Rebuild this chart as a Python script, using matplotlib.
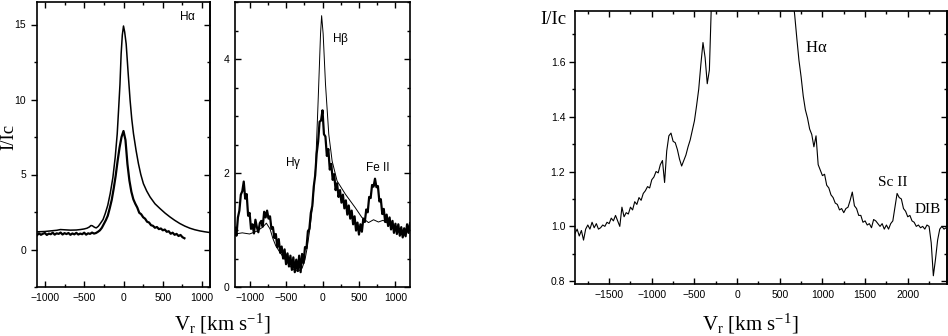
import numpy as np
import matplotlib
matplotlib.use("Agg")
import matplotlib.pyplot as plt
from matplotlib.ticker import MultipleLocator, FormatStrFormatter

plt.rcParams['font.family'] = ['Liberation Sans', 'DejaVu Sans']
plt.rcParams['mathtext.default'] = 'regular'

SERIF = ['Liberation Serif', 'DejaVu Serif']

# ---- panel 1: H-alpha, two epochs ----
ha_smooth_v = [-1100, -1000, -928, -850, -802, -740, -675, -600, -549, -500, -464,
               -435, -414, -395, -380, -360, -346, -320, -295, -260, -232, -200,
               -169, -135, -105, -80, -63, -45, -30, -15, 0, 15, 34, 60, 84, 105,
               127, 160, 190, 220, 253, 295, 338, 400, 464, 530, 591, 650, 717,
               780, 844, 905, 970, 1035, 1100]
ha_smooth_flux = [1.18, 1.20, 1.24, 1.28, 1.33, 1.31, 1.29, 1.30, 1.33, 1.37, 1.42,
                  1.50, 1.60, 1.58, 1.52, 1.46, 1.44, 1.55, 1.73, 2.00, 2.40, 2.95,
                  3.73, 4.80, 6.17, 7.70, 9.27, 11.0, 13.05, 14.3, 14.9, 14.5, 13.7,
                  11.7, 9.94, 8.70, 7.72, 6.60, 5.72, 5.00, 4.39, 3.90, 3.50, 3.05,
                  2.73, 2.42, 2.17, 1.95, 1.73, 1.56, 1.42, 1.32, 1.24, 1.18, 1.13]

ha_noisy_v = np.arange(-1100, 800, 25)
ha_noisy_flux = [0.95, 1.08, 0.98, 1.05, 1.10, 0.97, 1.06, 1.02,
                 1.12, 0.99, 1.08, 1.04, 1.13, 1.00, 1.09, 1.03,
                 1.10, 0.98, 1.07, 1.01, 1.11, 1.00, 1.06, 1.02,
                 1.12, 0.99, 1.08, 1.04, 1.13, 1.06, 1.10, 1.18,
                 1.28, 1.45, 1.70, 1.95, 2.25, 2.75, 3.30, 4.05,
                 4.90, 5.90, 6.80, 7.50, 7.90, 7.30, 5.70, 4.60,
                 3.85, 3.35, 3.05, 2.80, 2.45, 2.35, 2.15, 2.05,
                 1.85, 1.80, 1.62, 1.58, 1.45, 1.50, 1.36, 1.40,
                 1.28, 1.33, 1.18, 1.22, 1.05, 1.12, 0.98, 1.04,
                 0.90, 0.97, 0.82, 0.75]

# ---- panel 2: H-beta (thin) and H-gamma region (noisy) ----
hb_v = [-1200, -1100, -1000, -900, -820, -770, -720, -680, -640, -580, -500,
        -440, -380, -330, -280, -240, -210, -170, -140, -95, -60, -27, -12, 9,
        41, 86, 132, 200, 313, 450, 540, 631, 700, 767, 830, 904, 970, 1040,
        1109, 1150, 1200]
hb_flux = [0.93, 0.95, 0.93, 0.98, 1.05, 1.12, 1.02, 0.85, 0.72, 0.60, 0.46,
           0.36, 0.29, 0.28, 0.33, 0.48, 0.69, 1.05, 1.39, 2.09, 3.26, 4.44, 4.76,
           4.44, 3.56, 2.68, 2.21, 1.86, 1.63, 1.39, 1.22, 1.13, 1.18, 1.14, 1.17,
           1.11, 1.06, 0.98, 0.89, 0.95, 1.04]

hg_v = np.arange(-1200, 1201, 20)
hg_flux = [1.04, 0.90, 1.22, 1.34, 1.62, 1.68, 1.85, 1.55, 1.63, 1.25,
           1.30, 1.02, 1.10, 0.94, 1.18, 1.05, 0.96, 1.12, 1.16, 1.06,
           1.32, 1.22, 1.34, 1.20, 1.24, 1.02, 1.05, 0.86, 0.93, 0.70,
           0.84, 0.60, 0.71, 0.50, 0.66, 0.40, 0.59, 0.36, 0.55, 0.30,
           0.52, 0.26, 0.48, 0.28, 0.55, 0.26, 0.58, 0.42, 0.70, 0.68,
           0.98, 1.02, 1.30, 1.42, 1.76, 1.96, 2.34, 2.55, 2.90, 2.92,
           3.10, 2.68, 2.64, 2.30, 2.42, 2.06, 2.16, 1.88, 1.98, 1.70,
           1.82, 1.58, 1.70, 1.48, 1.62, 1.38, 1.52, 1.27, 1.43, 1.20,
           1.34, 1.10, 1.24, 0.99, 1.13, 0.92, 1.10, 0.97, 1.20, 1.14,
           1.36, 1.31, 1.58, 1.56, 1.79, 1.76, 1.90, 1.75, 1.77, 1.50,
           1.54, 1.28, 1.37, 1.14, 1.27, 1.07, 1.22, 1.01, 1.16, 0.95,
           1.11, 0.93, 1.10, 0.90, 1.05, 0.87, 1.03, 0.89, 1.10, 0.95,
           1.12]

# ---- panel 3: H-alpha wings, zoomed ----
wing_blue_v = np.arange(-1900, -299, 25)
wing_blue_flux = [0.975, 0.99, 0.965, 0.985, 0.95, 0.99, 1.005, 0.99,
                  1.015, 0.995, 1.01, 0.99, 0.995, 1.005, 1.0, 1.015,
                  1.01, 1.03, 1.02, 1.04, 1.02, 1.0, 1.07, 1.035,
                  1.05, 1.045, 1.07, 1.06, 1.09, 1.08, 1.105, 1.095,
                  1.12, 1.13, 1.145, 1.14, 1.17, 1.18, 1.2, 1.195,
                  1.225, 1.24, 1.16, 1.275, 1.33, 1.34, 1.31, 1.305,
                  1.28, 1.245, 1.22, 1.24, 1.26, 1.29, 1.315, 1.35,
                  1.385, 1.44, 1.5, 1.59, 1.67, 1.615, 1.52, 1.57,
                  1.82]
wing_peak_v = [0]
wing_peak_flux = [14.9]
wing_red_v = np.arange(650, 2451, 25)
wing_red_flux = [1.84, 1.77, 1.685, 1.605, 1.545, 1.475, 1.425, 1.395,
                 1.355, 1.335, 1.29, 1.33, 1.225, 1.205, 1.185, 1.19,
                 1.15, 1.14, 1.115, 1.105, 1.085, 1.08, 1.06, 1.065,
                 1.05, 1.065, 1.07, 1.095, 1.125, 1.075, 1.065, 1.04,
                 1.04, 1.015, 1.02, 1.005, 1.01, 0.995, 1.025, 1.02,
                 1.01, 1.0, 1.01, 0.99, 1.005, 0.99, 1.01, 1.02,
                 1.07, 1.12, 1.105, 1.1, 1.065, 1.055, 1.035, 1.04,
                 1.02, 1.015, 1.0, 1.005, 0.995, 1.0, 0.99, 1.005,
                 1.0, 0.94, 0.82, 0.88, 0.95, 0.99, 1.0, 0.99,
                 0.995]

W, H = 948, 336
fig = plt.figure(figsize=(W / 100, H / 100), dpi=100)
ax1 = fig.add_axes([37 / W, 49 / H, 173 / W, 285 / H])
ax2 = fig.add_axes([235 / W, 49 / H, 175 / W, 285 / H])
ax3 = fig.add_axes([575 / W, 52 / H, 372 / W, 273 / H])


def style(ax, ymajor, yminor, left_out, yfmt=None, ypad=4):
    for sp in ax.spines.values():
        sp.set_linewidth(1.2)
    ax.xaxis.set_major_locator(MultipleLocator(500))
    ax.xaxis.set_minor_locator(MultipleLocator(250))
    ax.yaxis.set_major_locator(MultipleLocator(ymajor))
    ax.yaxis.set_minor_locator(MultipleLocator(yminor))
    if yfmt:
        ax.yaxis.set_major_formatter(FormatStrFormatter(yfmt))
    ax.tick_params(axis='x', which='both', direction='in', top=True,
                   labelsize=7.5, width=1, pad=4)
    ax.tick_params(which='major', length=4)
    ax.tick_params(which='minor', length=2.5)
    if left_out:
        ax.tick_params(axis='y', which='both', direction='out', right=False,
                       labelsize=7.5, width=1, pad=ypad)
        # right-hand ticks point inward, so they get their own axis
        sec = ax.secondary_yaxis('right')
        sec.yaxis.set_major_locator(MultipleLocator(ymajor))
        sec.yaxis.set_minor_locator(MultipleLocator(yminor))
        sec.tick_params(which='both', direction='in', labelright=False, width=1)
        sec.tick_params(which='major', length=4)
        sec.tick_params(which='minor', length=2.5)
        sec.spines['right'].set_linewidth(1.2)
    else:
        ax.tick_params(axis='y', which='both', direction='in', right=True,
                       labelsize=7.5, width=1, pad=ypad)


# panel 1
ax1.plot(ha_smooth_v, ha_smooth_flux, color='black', lw=1.1)
ax1.plot(ha_noisy_v, ha_noisy_flux, color='black', lw=1.6)
ax1.set_xlim(-1100, 1100)
ax1.set_ylim(-2.5, 16.5)
style(ax1, 5, 2.5, True, ypad=4)
ax1.text(819, 15.5, r'H$\alpha$', fontsize=8.5, ha='center', va='center')

# panel 2
ax2.plot(hb_v, hb_flux, color='black', lw=0.7)
ax2.plot(hg_v, hg_flux, color='black', lw=1.6)
ax2.set_xlim(-1200, 1200)
ax2.set_ylim(0, 5)
style(ax2, 2, 0.5, False, ypad=4)
ax2.text(245, 4.35, r'H$\beta$', fontsize=8.5, ha='center', va='center')
ax2.text(-409, 2.18, r'H$\gamma$', fontsize=8.5, ha='center', va='center')
ax2.text(763, 2.09, 'Fe II', fontsize=8.5, ha='center', va='center')

# panel 3
wing_v = np.concatenate([wing_blue_v, wing_peak_v, wing_red_v])
wing_flux = np.concatenate([wing_blue_flux, wing_peak_flux, wing_red_flux])
ax3.plot(wing_v, wing_flux, color='black', lw=0.8)
ax3.set_xlim(-1900, 2460)
ax3.set_ylim(0.79, 1.785)
style(ax3, 0.2, 0.1, True, '%.1f', ypad=3)
ax3.text(932, 1.651, r'H$\alpha$', family=SERIF, fontsize=12, ha='center', va='center')
ax3.text(1825, 1.161, 'Sc II', family=SERIF, fontsize=11, ha='center', va='center')
ax3.text(2237, 1.062, 'DIB', family=SERIF, fontsize=11, ha='center', va='center')

# axis titles
xlab = r'V$_r$ [km s$^{-1}$]'
fig.text(222 / W, 6 / H, xlab, family=SERIF, fontsize=15, ha='center', va='baseline')
fig.text(750 / W, 6 / H, xlab, family=SERIF, fontsize=15, ha='center', va='baseline')
fig.text(9 / W, 1 - 137 / H, 'I/Ic', family=SERIF, fontsize=13.5, rotation=90,
         ha='center', va='center')
fig.text(553 / W, 1 - 19 / H, 'I/Ic', family=SERIF, fontsize=13.5,
         ha='center', va='center')

fig.savefig('out.png', dpi=100)
